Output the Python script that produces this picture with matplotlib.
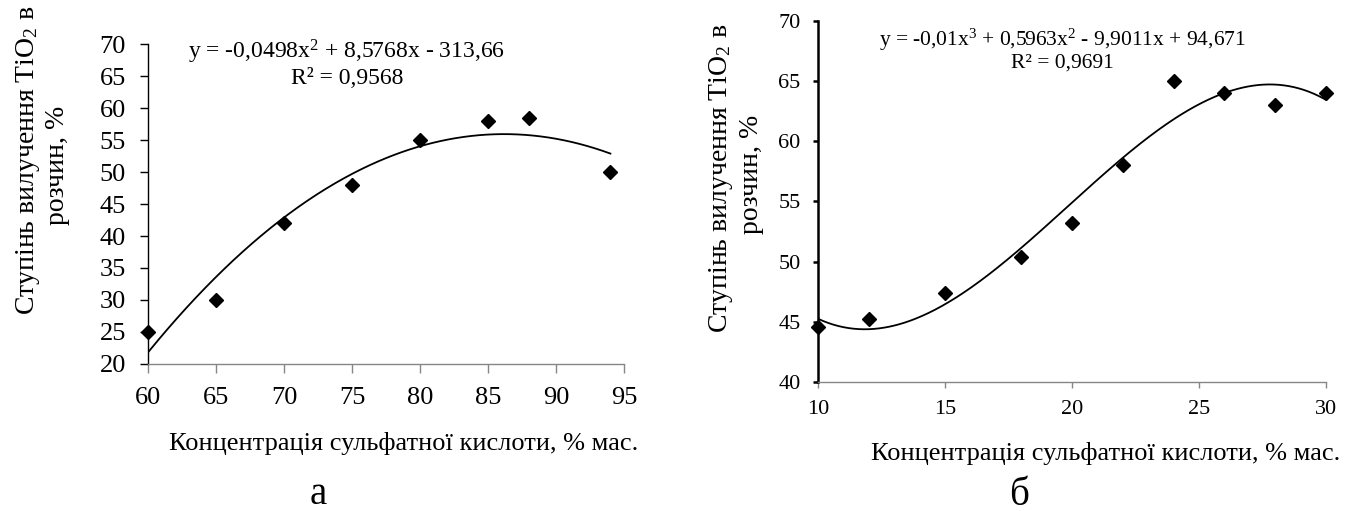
import numpy as np
import matplotlib.pyplot as plt

plt.rcParams['font.family'] = ['Liberation Serif', 'DejaVu Serif']
plt.rcParams['mathtext.fontset'] = 'custom'
plt.rcParams['mathtext.rm'] = 'Liberation Serif'
plt.rcParams['mathtext.default'] = 'regular'

# (а) extraction vs. acid concentration 60-94 %
conc_a = [60, 65, 70, 75, 80, 85, 88, 94]
extr_a = [25, 30, 42, 48, 55, 58, 58.5, 50]

# (б) extraction vs. acid concentration 10-30 %
conc_b = [10, 12, 15, 18, 20, 22, 24, 26, 28, 30]
extr_b = [44.6, 45.2, 47.4, 50.4, 53.2, 58, 65, 64, 63, 64]

eq_a = ['y = -0,0498x$^2$ + 8,5768x - 313,66', 'R² = 0,9568']
eq_b = ['y = -0,01x$^3$ + 0,5963x$^2$ - 9,9011x + 94,671', 'R² = 0,9691']

xlabel = 'Концентрація сульфатної кислоти, % мас.'
ylabel_1 = 'Ступінь вилучення TiO$_2$ в'
ylabel_2 = 'розчин, %'

W, H = 1359, 511
fig = plt.figure(figsize=(W / 100, H / 100), dpi=100)


def px_axes(l, t, r, b):
    return fig.add_axes([l / W, 1 - b / H, (r - l) / W, (b - t) / H])


def px_text(x, y, s, **kw):
    fig.text(x / W, 1 - y / H, s, ha='center', va='center', **kw)


def trend(ax, x, y, deg):
    coef = np.polyfit(x, y, deg)
    xs = np.linspace(min(x), max(x), 300)
    ax.plot(xs, np.polyval(coef, xs), color='black', lw=1.3, zorder=2)
    ax.plot(x, y, 'D', color='black', ms=7.5, zorder=3, clip_on=False)


def style(ax, ylw, ytick_len, xtick_len, fs, pad):
    for s in ['top', 'right']:
        ax.spines[s].set_visible(False)
    ax.spines['left'].set_color('black')
    ax.spines['left'].set_linewidth(ylw)
    ax.spines['bottom'].set_color('#868686')
    ax.spines['bottom'].set_linewidth(1.0)
    ax.tick_params(axis='y', direction='out', length=ytick_len, width=ylw,
                   color='black', labelsize=fs, pad=pad)
    ax.tick_params(axis='x', direction='out', length=xtick_len, width=1.0,
                   color='#868686', labelsize=fs, pad=pad)


# left panel
ax1 = px_axes(148, 44, 624, 364)
trend(ax1, conc_a, extr_a, 2)
ax1.set_xlim(60, 95)
ax1.set_ylim(20, 70)
ax1.set_xticks(np.arange(60, 96, 5))
ax1.set_yticks(np.arange(20, 71, 5))
style(ax1, 1.0, 5.8, 6.5, 19, 10)

# right panel
ax2 = px_axes(818, 21, 1326, 382)
trend(ax2, conc_b, extr_b, 3)
ax2.set_xlim(10, 30)
ax2.set_ylim(40, 70)
ax2.set_xticks(np.arange(10, 31, 5))
ax2.set_yticks(np.arange(40, 71, 5))
style(ax2, 1.8, 3.6, 4, 16, 9)

# trendline equations
px_text(347, 52, eq_a[0], fontsize=17)
px_text(347, 78, eq_a[1], fontsize=17)
px_text(1062, 40, eq_b[0], fontsize=15.5)
px_text(1062, 63, eq_b[1], fontsize=15.5)

# axis titles
px_text(404, 443, xlabel, fontsize=19)
px_text(1106, 453, xlabel, fontsize=19)
px_text(28, 160, ylabel_1, fontsize=20, rotation=90)
px_text(57, 165, ylabel_2, fontsize=20, rotation=90)
px_text(721, 178, ylabel_1, fontsize=20, rotation=90)
px_text(752, 174, ylabel_2, fontsize=20, rotation=90)

# panel letters
px_text(318, 494, 'а', fontsize=28)
px_text(1019, 495, 'б', fontsize=28)

fig.savefig('out.png', dpi=100)
